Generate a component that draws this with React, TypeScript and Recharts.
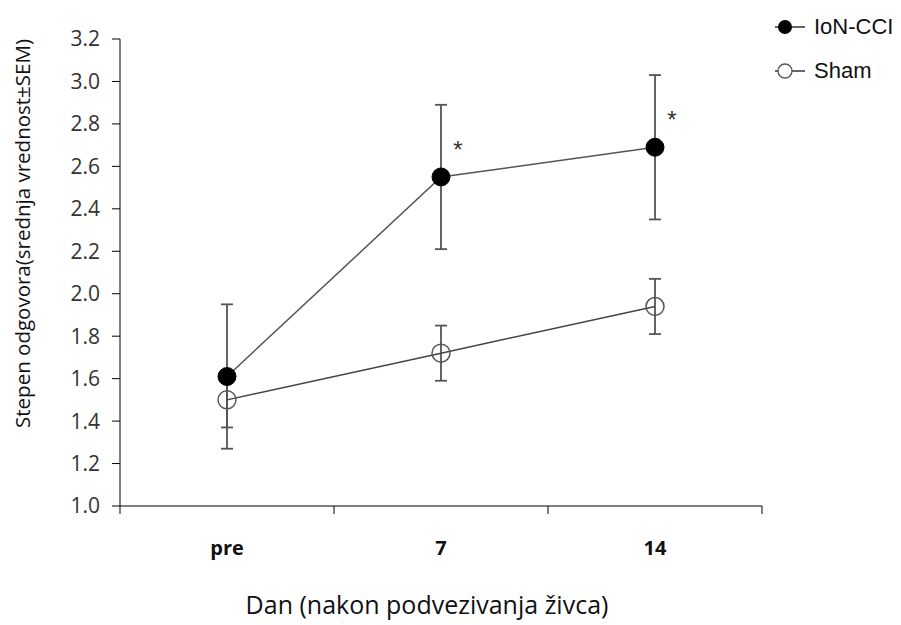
import { LineChart, Line, XAxis, YAxis, ErrorBar, Label, LabelList } from 'recharts';

const categories = ['pre', '7', '14'];
const ionMean = [1.61, 2.55, 2.69];
const ionSem = [0.34, 0.34, 0.34];
const shamMean = [1.5, 1.72, 1.94];
const shamSem = [0.13, 0.13, 0.13];
const ionSig = ['', '*', '*'];
const yTicks = [1.0, 1.2, 1.4, 1.6, 1.8, 2.0, 2.2, 2.4, 2.6, 2.8, 3.0, 3.2];
const seriesNames = ['IoN-CCI', 'Sham'];

const data = categories.map((day, i) => ({
  day,
  ion: ionMean[i],
  ionErr: ionSem[i],
  sham: shamMean[i],
  shamErr: shamSem[i],
  sig: ionSig[i],
}));

const FONT = '"Open Sans", Lato, sans-serif';
const HALF_BAND = 107;

const XTick = (props: any) => {
  const { x, y, payload, index } = props;
  return (
    <g>
      <line x1={x - HALF_BAND} y1={y} x2={x - HALF_BAND} y2={y + 8} stroke="#000" />
      {index === categories.length - 1 && (
        <line x1={x + HALF_BAND} y1={y} x2={x + HALF_BAND} y2={y + 8} stroke="#000" />
      )}
      <text x={x} y={y + 49} textAnchor="middle" fontFamily={FONT} fontSize={20} fontWeight="bold" fill="#111">
        {payload.value}
      </text>
    </g>
  );
};

const IonDot = (props: any) => {
  const { cx, cy } = props;
  return <circle cx={cx} cy={cy} r={9} fill="#000" stroke="#000" />;
};

const ShamDot = (props: any) => {
  const { cx, cy } = props;
  return <circle cx={cx} cy={cy} r={9} fill="none" stroke="#555" strokeWidth={1.5} />;
};

const Asterisk = (props: any) => {
  const { x, y, value } = props;
  if (!value) return null;
  return (
    <text x={x + 17} y={y - 19} textAnchor="middle" fontFamily='"Liberation Sans", Arial, sans-serif' fontSize={24} fill="#333">
      {value}
    </text>
  );
};

const LegendBox = () => (
  <div style={{ position: 'absolute', left: 769, top: 5, width: 132 }}>
    {seriesNames.map((name, i) => (
      <div key={name} style={{ display: 'flex', alignItems: 'center', height: 44 }}>
        <svg width={38} height={20}>
          <line x1={6} y1={10} x2={36} y2={10} stroke="#333" strokeWidth={1.5} />
          {i === 0 ? (
            <circle cx={16} cy={10} r={7} fill="#000" />
          ) : (
            <circle cx={16} cy={10} r={7} fill="#fff" stroke="#555" strokeWidth={1.3} />
          )}
        </svg>
        <span style={{ fontFamily: '"Liberation Sans", Arial, sans-serif', fontSize: 22, color: '#111', marginLeft: 7 }}>
          {name}
        </span>
      </div>
    ))}
  </div>
);

export default function App() {
  return (
    <div style={{ position: 'absolute', left: 0, top: 0, width: 901, height: 625, background: '#fff' }}>
      <LineChart width={901} height={625} data={data} margin={{ top: 39, right: 139, bottom: 59, left: 60 }}>
        <XAxis
          dataKey="day"
          padding={{ left: HALF_BAND, right: HALF_BAND }}
          tickLine={false}
          tickSize={0}
          tickMargin={0}
          height={60}
          axisLine={{ stroke: '#000' }}
          tick={<XTick />}
          interval={0}
        >
          <Label
            content={(p: any) => {
              const vb = p.viewBox;
              return (
                <text x={vb.x + vb.width / 2 - 14} y={vb.y + 108} textAnchor="middle" fontFamily={FONT} fontSize={25} fill="#111">
                  Dan (nakon podvezivanja živca)
                </text>
              );
            }}
          />
        </XAxis>
        <YAxis
          width={60}
          domain={[1, 3.2]}
          ticks={yTicks}
          interval={0}
          tickFormatter={(v: number) => v.toFixed(1)}
          tickSize={8}
          tickMargin={12}
          tickLine={{ stroke: '#000' }}
          axisLine={{ stroke: '#000' }}
          tick={{ fontFamily: FONT, fontSize: 21, fill: '#333' }}
        >
          <Label
            content={(p: any) => {
              const vb = p.viewBox;
              const cx = 22;
              const cy = vb.y + vb.height / 2 - 39;
              return (
                <text x={cx} y={cy} transform={`rotate(-90 ${cx} ${cy})`} textAnchor="middle" dominantBaseline="central" fontFamily={FONT} fontSize={20.5} fill="#111">
                  Stepen odgovora(srednja vrednost±SEM)
                </text>
              );
            }}
          />
        </YAxis>
        <Line
          dataKey="ion"
          name={seriesNames[0]}
          stroke="#555"
          strokeWidth={1.5}
          dot={<IonDot />}
          activeDot={false}
          isAnimationActive={false}
        >
          <ErrorBar dataKey="ionErr" direction="y" width={6} stroke="#555" strokeWidth={1.8} />
          <LabelList dataKey="sig" content={<Asterisk />} />
        </Line>
        <Line
          dataKey="sham"
          name={seriesNames[1]}
          stroke="#444"
          strokeWidth={1.5}
          dot={<ShamDot />}
          activeDot={false}
          isAnimationActive={false}
        >
          <ErrorBar dataKey="shamErr" direction="y" width={6} stroke="#555" strokeWidth={1.8} />
        </Line>
      </LineChart>
      <LegendBox />
    </div>
  );
}
